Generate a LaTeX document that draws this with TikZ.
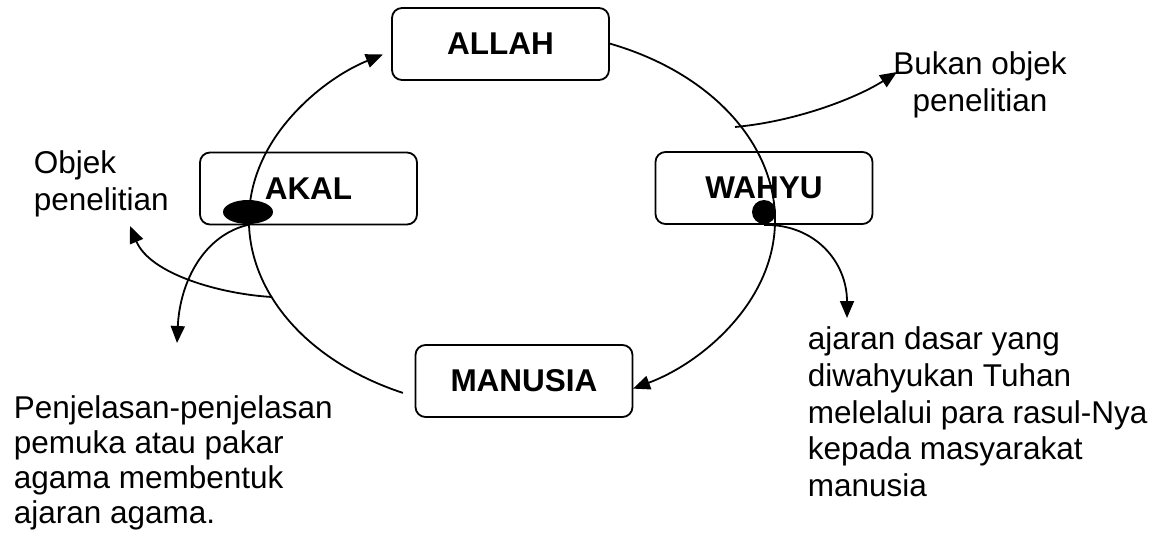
\documentclass[tikz,border=0pt]{standalone}
\usepackage{fontspec}
\setmainfont{Liberation Sans}
\usetikzlibrary{arrows.meta,shapes.geometric}
\begin{document}
\begin{tikzpicture}[x=1pt,y=-1pt,line width=1.8pt,
  box/.style={draw, rounded corners=10pt, minimum width=217pt, minimum height=72pt, inner sep=0pt,
    font=\fontsize{31.5}{36}\selectfont\bfseries},
  lbl/.style={inner sep=0pt},
  conn/.style={line width=1.8pt, -{Triangle[length=17pt,width=14pt]}}]
\useasboundingbox (0,0) rectangle (1164,533);
% boxes
\node[box] (allah) at (500.5,44) {ALLAH};
\node[box] (akal) at (308.5,188.5) {AKAL};
\node[box] (wahyu) at (764,188) {WAHYU};
\node[box] (manusia) at (524,381) {MANUSIA};
% dots
\node[fill, ellipse, minimum width=50pt, minimum height=24pt, inner sep=0pt] (akaldot) at (248,212) {};
\node[fill, circle, minimum size=24pt, inner sep=0pt] (wahyudot) at (764,212) {};
% cycle
\coordinate (r0) at (608.8,43.3);
\coordinate (l0) at (402.9,392.9);
\draw[conn] (r0) arc[start angle=68.4, end angle=-62.6, x radius=263pt, y radius=190pt];
\draw[conn] (l0) arc[start angle=245.5, end angle=119.4, x radius=263pt, y radius=190pt];
% labels
\node[lbl, anchor=north west, align=left, font=\fontsize{31.5}{37}\selectfont] (objek) at (33,150) {Objek\\penelitian};
\node[lbl, anchor=north, align=center, font=\fontsize{31.5}{37}\selectfont] (bukan) at (980,51) {Bukan objek\\penelitian};
\node[lbl, anchor=north west, align=left, font=\fontsize{31.5}{35}\selectfont] (penj) at (13,395) {Penjelasan-penjelasan\\pemuka atau pakar\\agama membentuk\\ajaran agama.};
\node[lbl, anchor=north west, align=left, font=\fontsize{31.5}{36.7}\selectfont] (ajaran) at (807,326) {ajaran dasar yang\\diwahyukan Tuhan\\melelalui para rasul-Nya\\kepada masyarakat\\manusia};
% branch arrows
\coordinate (b0) at (735,127);
\coordinate (b1) at (897,72);
\draw[conn] (b0) .. controls (800,121) and (860,96) .. (b1);
\coordinate (o0) at (272,297);
\coordinate (o1) at (130,226);
\draw[conn] (o0) .. controls (220,294) and (150,274) .. (o1);
\coordinate (a1) at (177,343);
\draw[conn] (akaldot.south) .. controls (205,235) and (180,280) .. (a1);
\coordinate (w1) at (847,318);
\draw[conn] (wahyudot.south) .. controls (815,224) and (847,262) .. (w1);
\end{tikzpicture}
\end{document}
